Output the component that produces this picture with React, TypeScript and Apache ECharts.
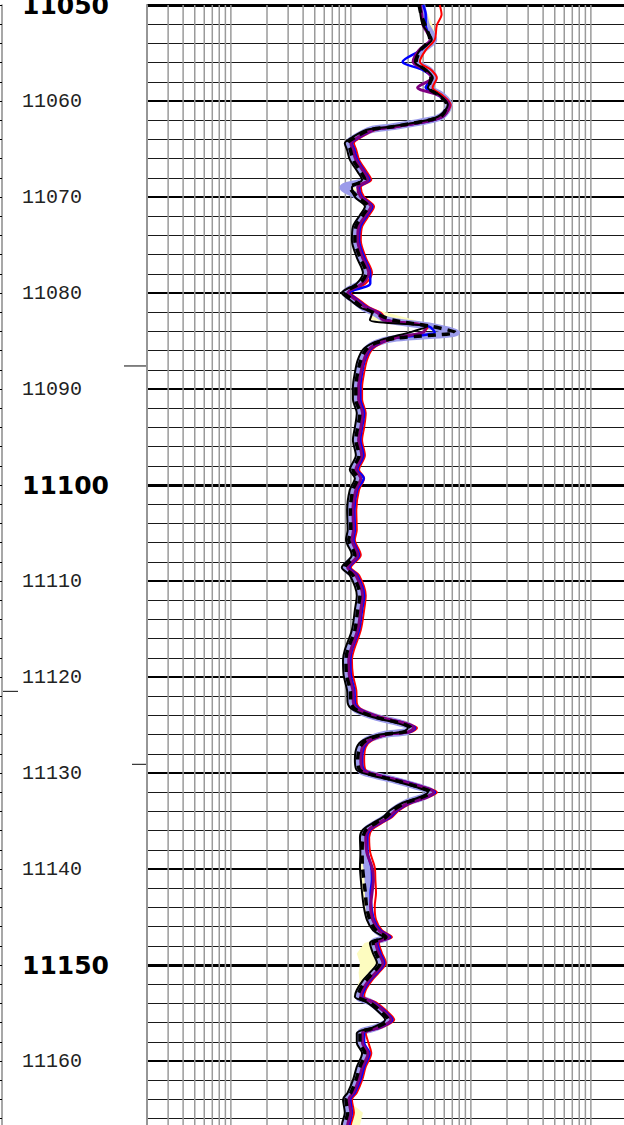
import React, { useEffect, useRef } from "react";
import * as echarts from "echarts";

// Depth samples (ft), shared by all curves
const DEPTH = [
  11050.0, 11051.0, 11052.1, 11053.6, 11054.7, 11055.9, 11056.8, 11057.6, 11058.6, 11059.4,
  11060.4, 11061.5, 11062.0, 11062.7, 11063.0, 11063.8, 11064.4, 11065.1, 11066.1, 11067.4,
  11068.2, 11069.0, 11070.0, 11071.0, 11071.9, 11073.1, 11074.5, 11076.3, 11077.9, 11079.0,
  11080.0, 11080.7, 11081.5, 11082.1, 11082.8, 11083.5, 11084.1, 11084.7, 11085.2, 11085.9,
  11087.0, 11088.3, 11089.8, 11091.1, 11092.5, 11094.0, 11095.3, 11096.9, 11098.4, 11099.3,
  11100.5, 11102.6, 11104.7, 11105.7, 11107.3, 11108.6, 11109.4, 11111.5, 11113.0, 11115.1,
  11117.2, 11118.2, 11119.8, 11121.4, 11122.7, 11123.4, 11124.2, 11124.8, 11125.3, 11125.7,
  11126.0, 11126.6, 11127.3, 11128.6, 11129.7, 11130.2, 11130.7, 11131.5, 11132.0, 11132.5,
  11133.1, 11133.9, 11134.6, 11135.2, 11135.9, 11136.7, 11138.3, 11139.8, 11141.1, 11142.5,
  11143.9, 11145.3, 11146.4, 11147.1, 11147.7, 11148.8, 11149.8, 11150.8, 11151.6, 11152.6,
  11153.3, 11153.9, 11155.0, 11155.7, 11156.5, 11157.1, 11158.1, 11159.2, 11160.6, 11162.0,
  11163.3, 11164.0, 11165.4, 11166.7, 11168.0,
];

// Black solid curve
const SOLID = [
  37.6, 38.0, 39.8, 47.3, 37.6, 34.1, 43.0, 48.2, 43.8, 55.2,
  64.3, 55.2, 43.0, 20.3, 13.6, 10.2, 8.9, 9.3, 9.8, 11.4,
  12.4, 10.2, 10.8, 13.1, 11.9, 10.4, 10.2, 11.2, 12.6, 11.2,
  8.4, 9.8, 11.9, 15.0, 14.4, 43.0, 31.0, 20.0, 15.3, 12.6,
  11.4, 10.8, 10.4, 10.4, 11.2, 10.8, 10.4, 11.0, 9.8, 10.8,
  9.8, 9.3, 9.4, 9.1, 10.2, 8.4, 9.8, 11.2, 10.8, 10.2,
  8.9, 8.6, 8.7, 9.3, 9.4, 10.4, 15.3, 24.2, 29.9, 27.1,
  17.4, 12.6, 11.2, 10.8, 11.2, 14.4, 21.1, 35.5, 43.8, 37.6,
  27.1, 21.1, 18.5, 15.3, 12.6, 11.9, 12.0, 11.9, 12.1, 12.4,
  12.8, 13.6, 15.3, 18.5, 14.4, 15.3, 16.5, 14.4, 12.6, 11.2,
  10.8, 13.6, 17.4, 19.3, 15.3, 11.2, 11.2, 12.4, 11.2, 10.4,
  9.4, 8.6, 8.9, 8.4, 8.4,
];

// Black dashed curve
const DASHED = [
  37.0, 38.5, 41.5, 45.5, 38.0, 35.0, 42.0, 46.5, 44.5, 54.0,
  63.0, 57.5, 44.5, 21.5, 14.4, 10.8, 9.4, 9.9, 10.4, 12.1,
  13.1, 9.8, 11.4, 13.9, 12.6, 11.0, 10.8, 11.9, 13.4, 11.9,
  8.9, 10.4, 12.6, 15.9, 22.0, 48.0, 74.0, 24.0, 16.2, 13.4,
  12.1, 11.4, 11.0, 11.0, 11.9, 11.4, 11.0, 11.7, 10.4, 11.4,
  10.4, 9.9, 10.0, 9.6, 10.8, 8.9, 10.4, 11.9, 11.4, 10.8,
  9.4, 9.1, 9.2, 9.9, 10.0, 11.0, 16.2, 25.7, 31.7, 28.7,
  18.4, 13.4, 11.9, 11.4, 11.9, 15.3, 22.4, 37.6, 46.4, 39.9,
  28.7, 22.4, 19.6, 16.2, 13.4, 12.6, 12.4, 12.5, 12.8, 13.2,
  13.5, 14.4, 16.2, 19.6, 15.3, 16.2, 17.5, 15.3, 13.4, 11.9,
  11.4, 14.4, 18.4, 20.5, 16.2, 11.9, 11.9, 13.1, 11.9, 11.0,
  10.0, 9.1, 9.4, 8.9, 8.9,
];

// Red curve
const RED = [
  55.0, 57.0, 52.0, 50.0, 42.0, 37.6, 47.0, 52.0, 48.0, 58.0,
  68.0, 60.0, 48.0, 24.2, 16.2, 12.1, 10.6, 11.1, 11.7, 13.6,
  14.8, 12.1, 12.9, 15.6, 14.2, 12.4, 12.1, 13.3, 15.0, 13.3,
  10.0, 11.7, 14.2, 17.9, 20.0, 44.0, 40.0, 23.8, 18.2, 15.0,
  13.6, 12.9, 12.4, 12.4, 13.3, 12.9, 12.4, 13.1, 11.7, 12.9,
  11.7, 11.1, 11.2, 10.8, 12.1, 10.0, 11.7, 13.3, 12.9, 12.1,
  10.6, 10.2, 10.4, 11.1, 11.2, 12.4, 18.2, 28.8, 35.6, 32.3,
  20.7, 15.0, 13.3, 12.9, 13.3, 17.1, 25.1, 42.2, 52.1, 44.7,
  32.3, 25.1, 22.0, 18.2, 15.0, 14.2, 14.5, 15.8, 16.0, 16.2,
  15.8, 16.2, 18.2, 22.0, 17.1, 18.2, 19.6, 17.1, 15.0, 13.3,
  12.9, 16.2, 20.7, 23.0, 18.2, 13.3, 14.0, 14.8, 13.3, 12.4,
  11.2, 10.2, 10.6, 10.0, 10.0,
];

// Blue curve
const BLUE = [
  40.0, 42.0, 42.0, 46.0, 38.0, 27.0, 40.0, 47.0, 42.0, 54.0,
  66.0, 60.0, 48.0, 23.3, 15.6, 11.7, 10.2, 10.7, 11.3, 13.1,
  14.3, 11.7, 12.4, 15.1, 13.7, 12.0, 11.7, 12.9, 14.5, 14.5,
  9.7, 11.3, 13.7, 17.3, 19.5, 45.0, 50.0, 23.0, 17.6, 14.5,
  13.1, 12.4, 12.0, 12.0, 12.9, 12.4, 12.0, 12.7, 11.3, 12.8,
  11.3, 10.7, 10.8, 10.5, 11.7, 9.7, 11.3, 12.9, 12.4, 11.7,
  10.2, 9.9, 10.0, 10.7, 10.8, 12.0, 17.6, 27.8, 34.4, 31.2,
  20.0, 14.5, 12.9, 12.4, 12.9, 16.6, 24.3, 40.8, 50.4, 43.2,
  31.2, 24.3, 21.3, 17.6, 14.5, 13.7, 13.8, 14.8, 15.0, 14.6,
  14.8, 15.6, 17.6, 21.3, 16.6, 17.6, 19.0, 16.6, 14.5, 12.9,
  12.4, 15.6, 20.0, 22.2, 17.6, 12.9, 12.9, 14.3, 12.9, 12.0,
  10.8, 9.9, 10.2, 9.7, 9.7,
];

// Purple curve
const PURPLE = [
  38.0, 39.0, 40.0, 46.0, 37.0, 33.0, 42.0, 47.0, 36.0, 54.0,
  66.0, 60.0, 47.0, 22.7, 15.2, 11.4, 10.0, 10.4, 11.0, 12.8,
  13.9, 11.4, 12.1, 14.7, 13.3, 11.6, 11.4, 12.5, 14.1, 12.5,
  9.4, 11.0, 13.3, 16.8, 18.5, 42.0, 40.0, 22.4, 17.1, 14.1,
  12.8, 12.1, 11.6, 11.6, 12.5, 12.1, 11.6, 12.3, 11.0, 12.1,
  11.0, 10.4, 10.5, 10.2, 11.4, 9.4, 11.0, 12.5, 12.1, 11.4,
  10.0, 9.6, 9.7, 10.4, 10.5, 11.6, 17.1, 27.1, 33.5, 30.4,
  19.5, 14.1, 12.5, 12.1, 12.5, 16.1, 23.6, 39.8, 49.0, 42.1,
  30.4, 23.6, 20.7, 17.1, 14.1, 13.3, 13.6, 15.0, 15.4, 15.0,
  14.6, 15.2, 17.1, 20.7, 16.1, 17.1, 18.5, 16.1, 14.1, 12.5,
  12.1, 15.2, 19.5, 21.6, 17.1, 12.5, 12.5, 13.9, 12.5, 11.6,
  10.5, 9.6, 10.0, 9.4, 9.4,
];

// Lavender (wide) curve
const LAVENDER = [
  39.0, 40.5, 42.5, 49.0, 39.5, 35.5, 45.0, 49.5, 45.5, 57.0,
  66.0, 58.0, 45.5, 21.7, 14.6, 10.9, 9.5, 10.0, 10.5, 12.2,
  13.3, 8.6, 11.6, 14.0, 12.7, 11.1, 10.9, 12.0, 13.5, 12.0,
  9.0, 10.5, 12.7, 16.0, 20.0, 48.0, 76.0, 24.0, 16.4, 13.5,
  12.2, 11.6, 11.1, 11.1, 12.0, 11.6, 11.1, 11.8, 10.5, 11.6,
  10.5, 10.0, 10.1, 9.7, 10.9, 9.0, 10.5, 12.0, 11.6, 10.9,
  9.5, 9.2, 9.3, 10.0, 10.1, 11.1, 16.4, 25.9, 32.0, 29.0,
  18.6, 13.5, 12.0, 11.6, 12.0, 15.4, 22.6, 38.0, 46.9, 40.2,
  29.0, 22.6, 19.8, 16.4, 13.5, 12.7, 13.0, 13.6, 13.9, 14.0,
  14.2, 14.8, 16.4, 19.8, 15.4, 16.4, 17.7, 15.4, 13.5, 12.0,
  11.6, 14.6, 18.6, 20.7, 16.4, 12.0, 12.0, 13.3, 12.0, 11.1,
  10.1, 9.2, 9.5, 9.0, 9.0,
];

// Outer edge of the pale-yellow shading (shading runs from SOLID to this)
const FILL_EDGE = [
  38.0, 44.0, 48.0, 52.0, 41.0, 38.0, 48.0, 50.0, 46.0, 60.0,
  70.8, 58.0, 45.0, 21.5, 14.5, 10.8, 9.5, 9.9, 10.4, 12.2,
  13.2, 10.8, 12.0, 13.9, 12.8, 11.2, 11.9, 12.6, 13.4, 11.9,
  8.9, 10.4, 14.0, 21.0, 34.0, 45.0, 32.0, 21.5, 16.3, 13.4,
  12.1, 11.5, 11.0, 11.0, 11.9, 11.5, 11.0, 11.7, 10.4, 11.5,
  10.4, 9.9, 10.0, 9.7, 10.8, 8.9, 10.4, 11.9, 11.5, 10.8,
  9.4, 9.1, 9.2, 9.9, 10.2, 11.6, 19.0, 28.0, 31.0, 28.5,
  18.5, 13.4, 11.9, 11.4, 11.9, 18.0, 25.7, 39.8, 46.0, 39.5,
  28.7, 22.4, 19.6, 16.2, 13.4, 12.6, 13.0, 13.4, 13.6, 13.8,
  14.2, 14.8, 15.6, 18.8, 13.0, 11.2, 11.9, 11.6, 11.8, 11.0,
  10.5, 14.4, 18.4, 20.4, 16.2, 11.9, 11.9, 13.1, 11.9, 11.0,
  9.9, 9.2, 12.6, 11.9, 8.8,
];

// Log-grid vertical line values
const X_GRID = [
  0.2, 0.3, 0.4, 0.5, 0.6, 0.7, 0.8, 0.9, 1,
  2, 3, 4, 5, 6, 7, 8, 9, 10,
  20, 30, 40, 50, 60, 70, 80, 90, 100,
  200, 300, 400, 500, 600, 700, 800, 900, 1000, 2000,
];
const X_MIN = 0.2;
const X_MAX = 2000;
const DEPTH_MIN = 11050;
const DEPTH_MAX = 11170;

// Short marker ticks (depths)
const TRACK_MARKERS = [11087.6, 11129.1];
const RULER_MARKERS = [11121.5];

const pairs = (vals: number[]) => vals.map((v, i) => [v, DEPTH[i]]);

export default function App() {
  const ref = useRef<HTMLDivElement | null>(null);

  useEffect(() => {
    document.body.style.margin = "0";
    if (!ref.current) return;
    const chart = echarts.init(ref.current, undefined, { renderer: "svg" });

    const yBase = {
      type: "value",
      inverse: true,
      min: DEPTH_MIN,
      max: DEPTH_MAX,
      gridIndex: 0,
      position: "left",
      axisTick: { show: false },
      axisLabel: { show: false },
      axisLine: { show: false },
    };

    const line = (name: string, vals: number[], color: string, width: number, type: any = "solid") => ({
      name,
      type: "line",
      data: pairs(vals),
      xAxisIndex: 0,
      yAxisIndex: 0,
      symbol: "none",
      showSymbol: false,
      smooth: 0.3,
      silent: true,
      lineStyle: { color, width, type, cap: "butt", join: "round" },
    });

    const trackMarkerLen = [23, 15];

    chart.setOption({
      animation: false,
      textStyle: { fontFamily: "DejaVu Sans" },
      grid: [
        { left: 147, top: 5, width: 480, height: 1152, outerBoundsMode: "none", containLabel: false },
        { left: 2, top: 5, width: 1, height: 1152, outerBoundsMode: "none", containLabel: false },
      ],
      xAxis: [
        { type: "log", logBase: 10, min: X_MIN, max: X_MAX, gridIndex: 0, show: false },
        { type: "value", min: 0, max: 1, gridIndex: 1, show: false },
      ],
      yAxis: [
        {
          ...yBase,
          interval: 2,
          axisLine: { show: true, lineStyle: { color: "#8a8a8a", width: 2 } },
          splitLine: { show: true, lineStyle: { color: "#1a1a1a", width: 1.2 } },
        },
        {
          ...yBase,
          interval: 10,
          splitLine: { show: true, lineStyle: { color: "#000", width: 2 } },
          axisLabel: {
            show: true,
            interval: 0,
            align: "left",
            margin: 125,
            showMinLabel: true,
            showMaxLabel: false,
            formatter: (v: number) => (v % 50 === 0 ? `{b|${v}}` : `{n|${v}}`),
            rich: {
              n: { fontFamily: "Liberation Mono", fontSize: 20, color: "#222" },
              b: { fontFamily: "DejaVu Sans", fontWeight: "bold", fontSize: 25, color: "#000" },
            },
          },
        },
        {
          ...yBase,
          interval: 50,
          splitLine: { show: true, lineStyle: { color: "#000", width: 3 } },
        },
        {
          type: "value",
          inverse: true,
          min: DEPTH_MIN,
          max: DEPTH_MAX,
          gridIndex: 1,
          position: "left",
          interval: 2,
          axisLine: { show: true, lineStyle: { color: "#8a8a8a", width: 1.5 } },
          axisTick: { show: true, inside: false, length: 2, lineStyle: { color: "#000", width: 1 } },
          axisLabel: { show: false },
          splitLine: { show: false },
        },
      ],
      series: [
        {
          type: "custom",
          xAxisIndex: 0,
          yAxisIndex: 0,
          silent: true,
          z: 1,
          clip: false,
          data: X_GRID.map((v) => [v, DEPTH_MIN]),
          encode: { x: 0, y: 1 },
          renderItem: (params: any, api: any) => {
            const v = api.value(0);
            const p1 = api.coord([v, DEPTH_MIN]);
            const p2 = api.coord([v, DEPTH_MAX]);
            return {
              type: "line",
              shape: { x1: p1[0], y1: p1[1], x2: p2[0], y2: p2[1] },
              style: { stroke: "#9a9a9a", lineWidth: 1.5 },
            };
          },
        },
        line("lavender", LAVENDER, "#9b9bea", 7),
        {
          type: "custom",
          xAxisIndex: 0,
          yAxisIndex: 0,
          silent: true,
          clip: true,
          data: [[SOLID[0], DEPTH[0]]],
          encode: { x: 0, y: 1 },
          renderItem: (params: any, api: any) => {
            const pts: number[][] = [];
            for (let i = 0; i < DEPTH.length; i++) pts.push(api.coord([SOLID[i], DEPTH[i]]));
            for (let i = DEPTH.length - 1; i >= 0; i--) pts.push(api.coord([FILL_EDGE[i], DEPTH[i]]));
            return {
              type: "polygon",
              shape: { points: pts },
              style: { fill: "#fdfcc0", stroke: "none" },
            };
          },
        },
        line("red", RED, "#ff0000", 2),
        line("blue", BLUE, "#0000ff", 2.5),
        line("purple", PURPLE, "#800080", 3),
        line("solid", SOLID, "#000000", 2),
        line("dashed", DASHED, "#000000", 3.5, [8, 6]),
        {
          type: "custom",
          xAxisIndex: 0,
          yAxisIndex: 0,
          silent: true,
          clip: false,
          data: TRACK_MARKERS.map((d) => [X_MIN, d]),
          encode: { x: 0, y: 1 },
          renderItem: (params: any, api: any) => {
            const p = api.coord([X_MIN, api.value(1)]);
            const len = trackMarkerLen[params.dataIndex];
            return {
              type: "line",
              shape: { x1: p[0] - len, y1: p[1], x2: p[0] - 1, y2: p[1] },
              style: { stroke: "#333", lineWidth: 1.2 },
            };
          },
        },
        {
          type: "custom",
          xAxisIndex: 1,
          yAxisIndex: 3,
          silent: true,
          clip: false,
          data: RULER_MARKERS.map((d) => [0, d]),
          encode: { x: 0, y: 1 },
          renderItem: (params: any, api: any) => {
            const p = api.coord([0, api.value(1)]);
            return {
              type: "line",
              shape: { x1: p[0] + 1, y1: p[1], x2: p[0] + 16, y2: p[1] },
              style: { stroke: "#333", lineWidth: 1.2 },
            };
          },
        },
      ],
    });

    return () => chart.dispose();
  }, []);

  return (
    <div style={{ width: 624, height: 1125, overflow: "hidden", position: "relative", background: "#fff" }}>
      <div ref={ref} style={{ width: 640, height: 1160 }} />
    </div>
  );
}
